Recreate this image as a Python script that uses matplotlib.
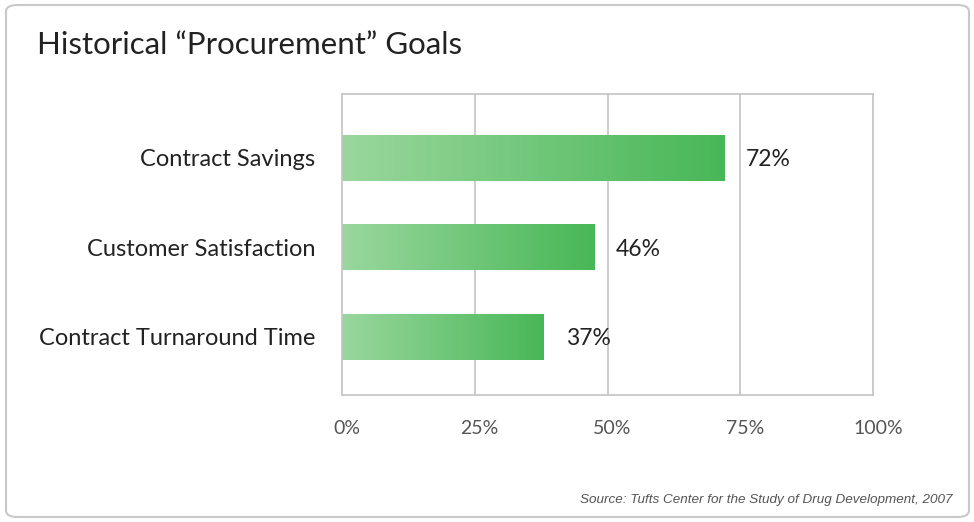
import numpy as np
import matplotlib.pyplot as plt
import matplotlib.transforms as mtransforms
from matplotlib.patches import FancyBboxPatch

# --------- data ---------
categories = ['Contract Savings', 'Customer Satisfaction', 'Contract Turnaround Time']
bar_lengths = [72, 47.5, 38]          # as drawn in the picture
value_labels = ['72%', '46%', '37%']
x_ticks = [0, 25, 50, 75, 100]
x_tick_labels = ['0%', '25%', '50%', '75%', '100%']

c_light = np.array([154, 215, 157]) / 255
c_dark = np.array([72, 183, 87]) / 255

fig = plt.figure(figsize=(9.74, 5.22), dpi=100)
fig.patch.set_facecolor('white')

# rounded frame
fig.patches.append(FancyBboxPatch((6/974, 5/522), 963/974, 512/522,
                                  boxstyle='round,pad=0,rounding_size=0.012',
                                  transform=fig.transFigure, fc='white',
                                  ec='#c9c9c9', lw=1.5, zorder=-5))

ax = fig.add_axes([342/974, 1 - 395/522, 531/974, 301/522])
ax.patch.set_alpha(0)

for s in ax.spines.values():
    s.set_color('#c3c3c3'); s.set_linewidth(1.2)
for x in x_ticks[1:-1]:
    ax.axvline(x, color='#c3c3c3', lw=1.2, zorder=1)

# gradient bars
grad = np.linspace(0, 1, 256)[None, :, None]
img = c_light[None, None, :] * (1 - grad) + c_dark[None, None, :] * grad
h = 0.51
for i, (v, lab) in enumerate(zip(bar_lengths, value_labels)):
    ax.imshow(img, extent=(0, v, i + h/2, i - h/2), aspect='auto', zorder=2,
              interpolation='bilinear')
    ax.text(v + 4.1, i + 0.02, lab, va='center', ha='left', fontsize=16.5,
            family='Lato', color='#222222')

ax.set_xlim(0, 100)
ax.set_ylim(2.65, -0.715)
ax.set_yticks(range(len(categories)))
ax.set_yticklabels(categories, fontsize=17, family='Lato', color='#222222')
ax.set_xticks(x_ticks)
ax.set_xticklabels(x_tick_labels, fontsize=14, family='Lato', color='#555555')
ax.tick_params(axis='y', length=0, pad=19)
ax.tick_params(axis='x', length=0, pad=18)
shift = mtransforms.ScaledTranslation(5/100, 0, fig.dpi_scale_trans)
for t in ax.get_xticklabels():
    t.set_transform(t.get_transform() + shift)

fig.text(37/974, 1 - 45/522, 'Historical \u201cProcurement\u201d Goals', fontsize=22.5,
         family='Lato', color='#222222', va='center', ha='left')
fig.text(952/974, 1 - 500/522,
         'Source: Tufts Center for the Study of Drug Development, 2007',
         fontsize=9.7, family='Liberation Sans', style='italic', color='#555555',
         ha='right', va='center')

fig.savefig('out.png', dpi=100, facecolor='white')
